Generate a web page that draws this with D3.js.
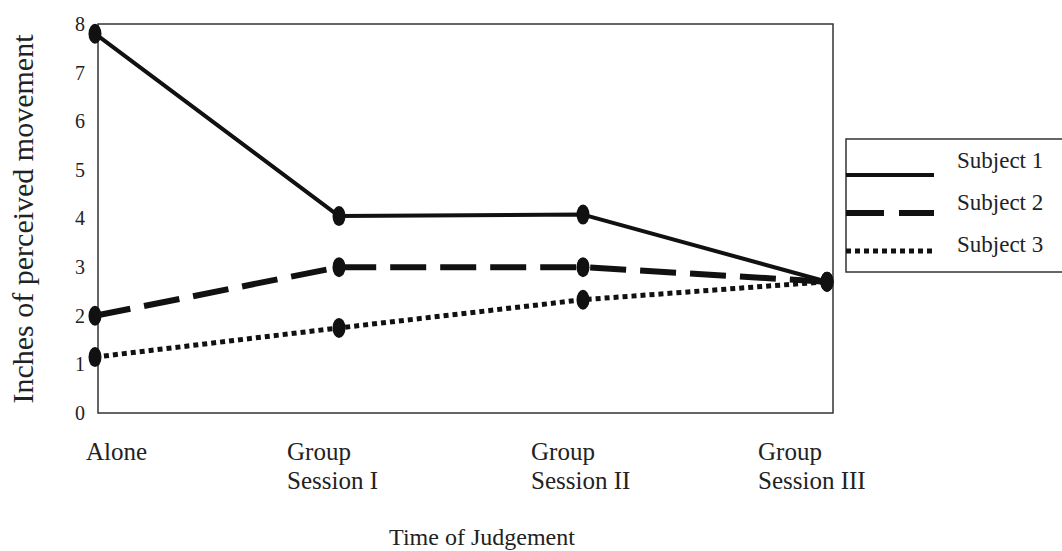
<!DOCTYPE html>
<html>
<head>
<meta charset="utf-8">
<script src="https://cdn.jsdelivr.net/npm/d3@7"></script>
<style>
  html, body { margin: 0; padding: 0; background: #fff; }
  svg { display: block; font-family: "Liberation Serif", "Times New Roman", serif; }
</style>
</head>
<body>
<svg id="chart" width="1062" height="551"></svg>
<script>
// ---- data ----
const categories = ["Alone", "Group Session I", "Group Session II", "Group Session III"];
const categoryLines = [["Alone"], ["Group", "Session I"], ["Group", "Session II"], ["Group", "Session III"]];
const subjects = ["Subject 1", "Subject 2", "Subject 3"];
const subject1 = [7.8, 4.05, 4.08, 2.7];
const subject2 = [2.0, 3.0, 3.0, 2.7];
const subject3 = [1.15, 1.75, 2.33, 2.7];
const yTicks = [0, 1, 2, 3, 4, 5, 6, 7, 8];

const series = [
  { name: subjects[0], values: subject1, width: 4, dash: null, legendDash: null },
  { name: subjects[1], values: subject2, width: 6, dash: "36,14", legendDash: "38,15" },
  { name: subjects[2], values: subject3, width: 5, dash: "5,4", legendDash: "5,4" }
];

const svg = d3.select("#chart");
const frame = { left: 98, right: 833, top: 24, bottom: 413 };

const x = d3.scalePoint().domain(categories).range([95, 827]);
const y = d3.scaleLinear().domain([0, 8]).range([frame.bottom, frame.top]);

// frame
svg.append("rect")
  .attr("x", frame.left).attr("y", frame.top)
  .attr("width", frame.right - frame.left)
  .attr("height", frame.bottom - frame.top)
  .attr("fill", "none").attr("stroke", "#333").attr("stroke-width", 1.5);

// y axis labels
const yAxis = d3.axisLeft(y).tickValues(yTicks).tickSize(0).tickPadding(13).tickFormat(d3.format("d"));
const gy = svg.append("g").attr("transform", `translate(${frame.left},0)`).call(yAxis);
gy.select(".domain").remove();
gy.selectAll("text").attr("font-size", 20).attr("fill", "#222")
  .attr("font-family", "Liberation Serif, Times New Roman, serif");

// lines
const line = d3.line().x((d, i) => x(categories[i])).y(d => y(d));
series.forEach(s => {
  svg.append("path")
    .datum(s.values)
    .attr("d", line)
    .attr("fill", "none")
    .attr("stroke", "#111")
    .attr("stroke-width", s.width)
    .attr("stroke-dasharray", s.dash)
    .attr("stroke-linejoin", "round");
});

// markers
series.forEach(s => {
  svg.append("g").selectAll("ellipse")
    .data(s.values)
    .join("ellipse")
    .attr("cx", (d, i) => x(categories[i]))
    .attr("cy", d => y(d))
    .attr("rx", 6.5).attr("ry", 10)
    .attr("fill", "#111");
});

// x category labels (left aligned, offset from each category position)
const labelShift = i => (i === 0 ? -9 : i === 3 ? -69 : -52);
const xl = svg.append("g");
categoryLines.forEach((lines, i) => {
  const lx = x(categories[i]) + labelShift(i);
  const t = xl.append("text")
    .attr("x", lx)
    .attr("y", 460)
    .attr("font-size", 25).attr("fill", "#222");
  lines.forEach((ln, j) => {
    t.append("tspan").attr("x", lx)
      .attr("dy", j === 0 ? 0 : 29).text(ln);
  });
});

// axis titles
svg.append("text")
  .attr("x", 482).attr("y", 545)
  .attr("text-anchor", "middle")
  .attr("font-size", 24).attr("fill", "#222")
  .text("Time of Judgement");

svg.append("text")
  .attr("transform", "translate(33,219) rotate(-90)")
  .attr("text-anchor", "middle")
  .attr("font-size", 30).attr("fill", "#222")
  .text("Inches of perceived movement");

// legend
const lg = svg.append("g");
lg.append("rect")
  .attr("x", 846).attr("y", 139).attr("width", 230).attr("height", 133)
  .attr("fill", "#fff").attr("stroke", "#333").attr("stroke-width", 1.5);
series.forEach((s, i) => {
  lg.append("line")
    .attr("x1", 846).attr("x2", 934)
    .attr("y1", 175 + i * 38).attr("y2", 175 + i * 38)
    .attr("stroke", "#111").attr("stroke-width", s.width)
    .attr("stroke-dasharray", s.legendDash);
  lg.append("text")
    .attr("x", 957).attr("y", 168 + i * 42)
    .attr("font-size", 23).attr("fill", "#222")
    .text(s.name);
});
</script>
</body>
</html>
